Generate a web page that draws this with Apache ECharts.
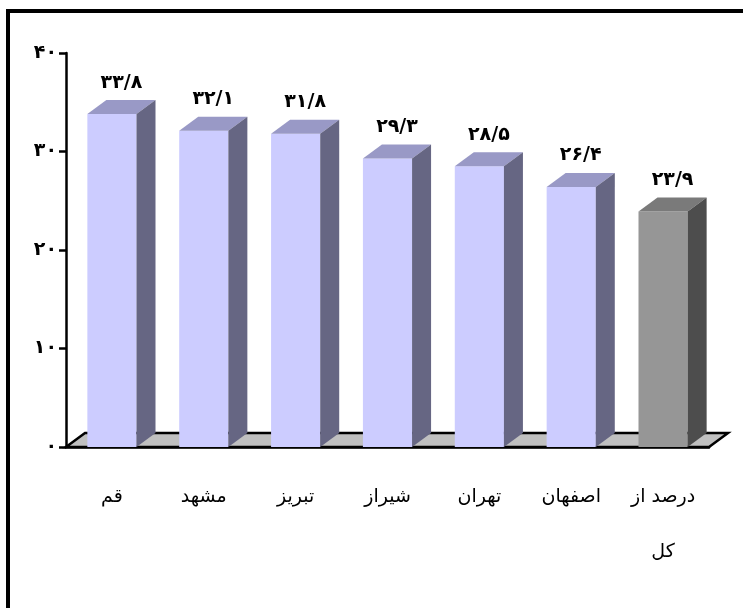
<!DOCTYPE html>
<html>
<head>
<meta charset="utf-8">
<script src="https://cdn.jsdelivr.net/npm/echarts@6/dist/echarts.min.js"></script>
<style>
  html, body { margin: 0; padding: 0; background: #fff; }
  #chart { width: 743px; height: 608px; }
</style>
</head>
<body>
<div id="chart"></div>
<script>
const categories = ['قم', 'مشهد', 'تبریز', 'شیراز', 'تهران', 'اصفهان', 'درصد از کل']
const values = [33.8, 32.1, 31.8, 29.3, 28.5, 26.4, 23.9]
const yTicks = [0, 10, 20, 30, 40]

// persian digits, decimal point shown as '/'
const toFa = (n) => String(n).replace(/[0-9]/g, (d) => '۰۱۲۳۴۵۶۷۸۹'[d]).replace('.', '/')

const DX = 19 // depth of the fake 3d
const DY = 14
const FONT = 'DejaVu Sans'

function renderBar(params, api) {
  const idx = api.value(0)
  const top = api.coord([idx, api.value(1)])
  const base = api.coord([idx, 0])
  const bw = api.size([1, 0])[0] * 0.535
  const x0 = top[0] - bw / 2
  const x1 = x0 + bw
  const y0 = top[1]
  const yb = base[1]
  const isTotal = idx === categories.length - 1
  const c = isTotal
    ? { front: '#969696', top: '#7a7a7a', side: '#4d4d4d' }
    : { front: '#ccccff', top: '#9999c6', side: '#666683' }
  return {
    type: 'group',
    children: [
      { type: 'rect', shape: { x: x0, y: y0, width: bw, height: yb - y0 }, style: { fill: c.front } },
      {
        type: 'polygon',
        shape: { points: [[x0, y0], [x1, y0], [x1 + DX, y0 - DY], [x0 + DX, y0 - DY]] },
        style: { fill: c.top },
      },
      {
        type: 'polygon',
        shape: { points: [[x1, y0], [x1 + DX, y0 - DY], [x1 + DX, yb - DY], [x1, yb]] },
        style: { fill: c.side },
      },
      {
        type: 'text',
        x: x0 + (bw + DX) / 2,
        y: y0 - DY - 8,
        style: {
          text: toFa(api.value(1)),
          align: 'center',
          verticalAlign: 'bottom',
          font: 'bold 19px "' + FONT + '"',
          fill: '#000',
        },
      },
    ],
  }
}

function renderFloor(params) {
  const cs = params.coordSys
  const yb = cs.y + cs.height
  const x0 = cs.x
  const x1 = cs.x + cs.width
  return {
    type: 'polygon',
    shape: { points: [[x0, yb], [x1, yb], [x1 + DX, yb - DY], [x0 + DX, yb - DY]] },
    style: { fill: '#c0c0c0', stroke: '#000', lineWidth: 2.5 },
  }
}

let chartDom = document.getElementById('chart')
let myChart = echarts.init(chartDom)
let option = {
  backgroundColor: '#fff',
  animation: false,
  graphic: [
    {
      type: 'rect',
      shape: { x: 8, y: 11, width: 800, height: 700 },
      style: { fill: 'none', stroke: '#000', lineWidth: 4 },
      z: 10,
    },
  ],
  grid: {
    left: 66,
    right: 34,
    top: 53,
    bottom: 161,
  },
  xAxis: {
    type: 'category',
    data: categories,
    z: 5,
    axisLine: { lineStyle: { color: '#000', width: 2.5 } },
    axisTick: { length: 7, lineStyle: { color: '#000', width: 2.5 } },
    axisLabel: {
      interval: 0,
      margin: 23,
      color: '#000',
      fontFamily: FONT,
      fontSize: 19,
      lineHeight: 55,
      formatter: (v) => v.replace(' کل', '\nکل'),
    },
  },
  yAxis: {
    type: 'value',
    min: yTicks[0],
    max: yTicks[yTicks.length - 1],
    interval: 10,
    z: 5,
    splitLine: { show: false },
    axisLine: { show: true, lineStyle: { color: '#000', width: 2.5 } },
    axisTick: { show: true, length: 7, lineStyle: { color: '#000', width: 2.5 } },
    axisLabel: {
      margin: 9,
      color: '#000',
      fontFamily: FONT,
      fontWeight: 'bold',
      fontSize: 19,
      formatter: (v) => toFa(v),
    },
  },
  series: [
    {
      type: 'custom',
      renderItem: renderFloor,
      data: [[0, 0]],
      z: 1,
      silent: true,
    },
    {
      type: 'custom',
      renderItem: renderBar,
      data: values.map((v, i) => [i, v]),
      z: 6,
    },
  ],
}
myChart.setOption(option)
window.addEventListener('resize', () => {
  myChart.resize()
})
</script>
</body>
</html>
